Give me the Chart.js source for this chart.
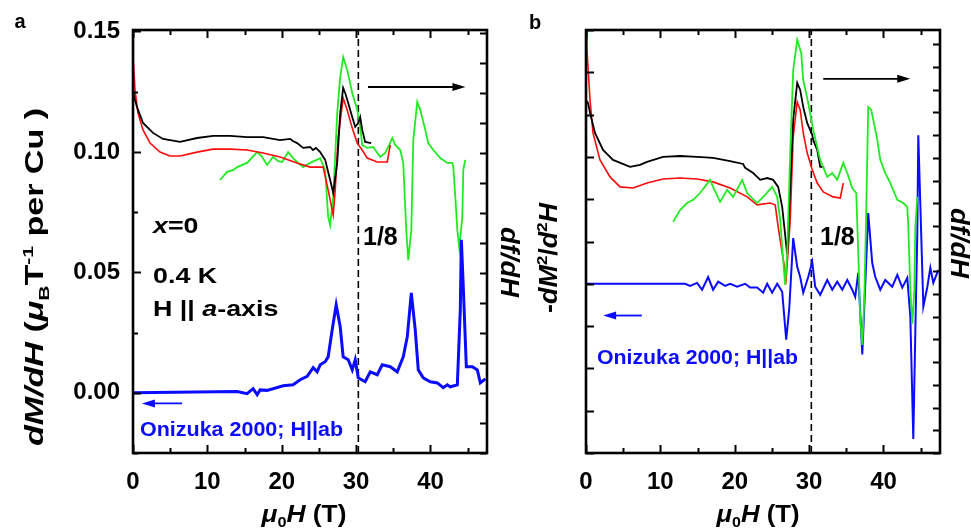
<!DOCTYPE html>
<html>
<head>
<meta charset="utf-8">
<script src="https://cdn.jsdelivr.net/npm/chart.js@4.4.0/dist/chart.umd.min.js"></script>
<style>
  body { margin: 0; background: #fff; }
  #wrap { position: relative; width: 971px; height: 532px; }
  canvas { position: absolute; top: 0; }
  #cA { left: 0; }
  #cB { left: 530px; }
</style>
</head>
<body>
<div id="wrap">
  <canvas id="cA" width="530" height="532"></canvas>
  <canvas id="cB" width="441" height="532"></canvas>
</div>
<script>
// ---- panel a : dM/dH (left) and df/dH (right, arb. units) ----
const aBlackH = [0,0.27,0.54,1.35,2.69,4.04,6.33,8.61,10.77,13.06,15.34,17.5,19.78,21.13,21.5,22.07,22.88,23.82,24.2,24.6,25.17,25.84,26.51,26.92,27.46,27.86,28.26,28.53,28.94,29.48,29.88,30.28,30.55,30.82,31.22,32.03];
const aBlackF = [12.1,11.77,11.53,11.0,10.67,10.47,10.37,10.5,10.57,10.57,10.53,10.53,10.43,10.47,10.4,10.33,10.17,10.2,10.1,10.17,10.03,9.77,9.1,8.67,9.67,11.33,12.17,12.0,11.67,11.2,10.87,11.0,11.2,10.77,10.37,10.33];

const aRedH = [0,0.04,0.27,0.67,1.35,2.29,3.63,4.98,6.33,8.61,10.77,13.06,15.34,17.5,19.78,22.07,23.82,25.57,26.24,26.92,27.19,27.59,28.26,28.8,29.48,30.15,30.82,31.49,32.84,34.19,34.59];
const aRedF = [14.6,13.1,12.1,11.33,10.77,10.33,10.03,9.9,9.9,10.03,10.13,10.13,10.1,10.0,9.87,9.67,9.53,9.53,8.77,7.93,8.77,10.53,11.83,11.43,10.83,10.33,10.1,9.83,9.7,9.7,10.27];

const aGreenH = [11.71,12.65,13.46,14.0,15.34,16.69,17.36,18.03,18.84,19.5,20.05,20.86,21.53,22.07,22.88,23.82,25.17,25.84,26.24,26.51,26.92,27.46,27.86,28.26,28.8,29.48,30.15,30.55,30.82,31.49,32.3,33.24,33.92,34.45,34.86,35.26,35.94,36.34,36.74,37.01,37.42,37.69,38.22,38.63,39.3,39.7,40.38,41.32,42.26,42.93,43.07,43.34,43.61,43.88,44.28,44.41,44.68];
const aGreenF = [9.1,9.37,9.43,9.53,9.67,10.03,9.87,9.6,9.87,9.73,9.7,10.03,9.83,9.7,9.53,9.67,9.83,9.43,7.87,7.6,8.53,11.33,12.53,13.2,12.77,12.0,11.43,10.87,10.27,10.17,10.2,9.87,10.0,10.27,10.5,10.27,10.1,9.67,7.43,6.43,7.43,10.43,11.7,11.43,10.77,10.33,10.1,9.83,9.67,9.67,9.53,8.53,7.43,6.83,7.87,9.43,9.77];

// Onizuka 2000, H||ab
const aBlueH = [0,14.0,15.34,16.15,16.69,17.09,18.03,20.19,21.53,22.48,23.42,24.23,24.76,25.17,25.84,26.24,26.78,27.32,27.86,28.26,28.94,29.48,29.88,30.28,31.22,31.9,32.84,33.51,34.59,35.53,36.34,36.88,37.42,37.95,38.36,39.03,39.97,40.92,41.72,42.26,42.66,43.61,44.01,44.15,44.41,44.82,45.63,46.3,46.7,47.38];
const aBlueV = [0,0.0005,-0.0004,0.0017,-0.0008,0.0012,0.001,0.0029,0.0033,0.0054,0.0068,0.0104,0.0087,0.0116,0.0129,0.0149,0.0261,0.0365,0.0274,0.0149,0.0137,0.0095,0.0137,0.0062,0.0046,0.0087,0.0075,0.0116,0.0108,0.0087,0.0149,0.0232,0.0415,0.0261,0.0095,0.0062,0.0046,0.0041,0.0021,0.0033,0.0025,0.0033,0.0344,0.0635,0.044,0.0108,0.0108,0.0095,0.0041,0.0058];

// ---- panel b : -d2M/dH2 (left) and df/dH (right, arb. units) ----
const bBlackH = [0,0.27,0.54,1.21,2.29,3.63,5.92,7.27,8.21,10.36,12.65,14.94,17.09,19.38,21.13,21.4,22.48,23.42,24.36,25.17,25.84,26.38,26.78,27.05,27.46,27.86,28.4,28.8,29.21,29.74,30.42,30.55,31.09,31.49,32.03];
const bBlackF = [15.55,15.42,14.98,14.1,13.35,12.91,12.6,12.69,12.82,13.04,13.08,13.04,13.0,12.86,12.73,12.56,12.33,12.03,12.11,12.03,11.72,10.84,9.6,8.72,11.72,14.67,16.3,15.99,15.24,14.54,14.01,13.79,13.35,12.6,12.6];

const bRedH = [0,0.13,0.27,0.54,0.94,1.88,3.23,4.58,6.33,8.21,10.36,12.65,14.94,17.09,19.38,21.67,23.01,24.76,25.44,25.84,26.38,26.92,27.46,27.86,28.4,28.8,29.21,29.74,30.42,31.09,31.9,33.24,34.19,34.59];
const bRedF = [19.0,17.75,17.0,15.55,14.1,12.91,12.16,11.72,11.67,11.89,12.07,12.11,12.07,11.94,11.67,11.28,10.93,11.01,10.93,9.96,8.81,7.71,10.26,13.92,15.46,15.11,14.1,13.22,12.47,11.89,11.5,11.28,11.23,11.89];

const bGreenH = [11.71,12.65,13.59,14.4,15.34,16.69,17.09,18.03,18.98,19.78,21.0,21.67,23.01,24.09,25.03,25.71,26.11,26.51,26.78,27.05,27.46,27.86,28.4,28.94,29.21,29.88,30.55,31.49,32.44,33.11,33.78,34.59,35.13,35.8,36.34,36.61,36.88,37.15,37.42,37.69,37.95,38.36,38.63,39.17,39.57,40.24,40.92,41.86,42.66,43.2,43.34,43.61,43.88,44.15,44.28,44.55];
const bGreenF = [10.18,10.7,11.01,11.15,11.45,12.03,11.72,11.06,11.59,11.28,12.03,11.45,11.01,11.37,11.72,11.28,10.26,8.5,7.4,8.81,13.22,16.87,18.19,17.62,16.43,15.42,14.23,12.91,12.16,12.33,12.03,12.78,12.33,11.67,11.45,8.81,5.86,4.76,6.74,10.84,15.24,15.11,14.67,13.79,12.91,12.33,11.89,11.15,11.01,10.84,9.96,7.18,5.7,7.18,9.96,11.28];

const bBlueH = [0,13.32,14.0,14.94,15.61,16.42,17.09,17.77,18.71,19.38,20.32,21.4,22.07,23.01,23.82,24.36,25.03,25.71,26.38,26.92,27.32,27.86,28.4,28.8,29.21,29.88,30.42,30.82,31.49,32.44,33.11,33.78,34.46,35.13,35.8,36.2,36.61,37.15,37.95,38.49,38.9,39.57,40.24,41.18,41.86,42.53,43.2,43.61,44.01,44.28,44.55,44.68,45.36,45.9,46.3,46.7,47.38];
const bBlueV = [0,0,-0.05,0.02,-0.14,0.16,-0.14,0.05,-0.05,0,-0.07,0,-0.09,-0.09,-0.21,0,-0.21,0,-0.19,-1.32,-0.61,1.08,0.4,0.16,-0.21,0.16,0.52,-0.07,-0.26,0.09,-0.14,0.05,-0.14,0.09,-0.14,-0.31,0.26,-1.67,1.67,0.49,0.16,-0.14,0.09,-0.07,0.21,-0.09,0.14,-0.78,-3.67,-1.15,1.2,3.51,-0.54,-0.07,0.38,0.02,0.33];

// 1/8 plateau field and axis tick labels
const eighthH = 30.3;
const xTickLabels = [0, 10, 20, 30, 40];
const aYTickLabels = ['0.00', '0.05', '0.10', '0.15'];

const FONT = '"Liberation Sans", Arial, Helvetica, sans-serif';
const BLACK = '#000000', RED = '#ff0a0a', GREEN = '#22ea22', BLUE = '#0b0bff';

function pts(xs, ys) { return xs.map((x, i) => ({ x: x, y: ys[i] })); }

function line(xs, ys, color, width, axis) {
  return { data: pts(xs, ys), borderColor: color, borderWidth: width, pointRadius: 0,
           tension: 0, fill: false, yAxisID: axis };
}

function dashed(ymin, ymax) {
  return { data: [{ x: eighthH, y: ymin }, { x: eighthH, y: ymax }], borderColor: BLACK,
           borderWidth: 1.6, borderDash: [7, 4], pointRadius: 0, yAxisID: 'y' };
}

// text with italic / sub / superscript pieces
function drawRich(ctx, parts, x, y, o) {
  const size = o.size;
  const fontOf = p => (p.i ? 'italic ' : '') + 'bold ' + ((p.sub || p.sup) ? size * 0.62 : size) + 'px ' + FONT;
  let w = 0;
  for (const p of parts) { ctx.font = fontOf(p); w += ctx.measureText(p.t).width; }
  ctx.save();
  ctx.translate(x, y);
  if (o.rot) ctx.rotate(o.rot);
  const sx = o.len ? o.len / w : (o.sx || 1);
  ctx.scale(sx, 1);
  ctx.fillStyle = o.color || BLACK;
  ctx.textBaseline = 'alphabetic';
  ctx.textAlign = 'left';
  let cx = o.align === 'center' ? -w / 2 : 0;
  for (const p of parts) {
    ctx.font = fontOf(p);
    const dy = p.sub ? size * 0.22 : p.sup ? -size * 0.4 : 0;
    ctx.fillText(p.t, cx, dy);
    cx += ctx.measureText(p.t).width;
  }
  ctx.restore();
}

// frame, inward ticks, arrows and annotations
function decor(id, tickSpec, arrows, texts) {
  return {
    id: id,
    afterDraw(chart) {
      const ctx = chart.ctx, a = chart.chartArea;
      ctx.save();
      ctx.strokeStyle = BLACK;
      ctx.lineWidth = 2;
      for (const s of Object.values(chart.scales)) {
        const t = tickSpec[s.id];
        if (!t) continue;
        for (const tk of s.ticks) {
          const v = tk.value, n = v / t.step;
          if (Math.abs(n - Math.round(n)) > 1e-6) continue;
          const m = t.major ? v / t.major : 0;
          const len = (t.major && Math.abs(m - Math.round(m)) < 1e-6) ? t.long : t.short;
          const p = Math.round(s.getPixelForValue(v)) + 0.5;
          ctx.beginPath();
          if (s.isHorizontal()) {
            ctx.moveTo(p, a.bottom); ctx.lineTo(p, a.bottom - len);
            ctx.moveTo(p, a.top); ctx.lineTo(p, a.top + len);
          } else if (s.position === 'left') {
            ctx.moveTo(a.left, p); ctx.lineTo(a.left + len, p);
          } else {
            ctx.moveTo(a.right, p); ctx.lineTo(a.right - len, p);
          }
          ctx.stroke();
        }
      }
      ctx.lineWidth = 2.6;
      ctx.strokeRect(a.left, a.top, a.width, a.height);

      for (const ar of arrows) {
        const xs = chart.scales.x, ys = chart.scales[ar.axis];
        const x1 = xs.getPixelForValue(ar.from), x2 = xs.getPixelForValue(ar.to);
        const yy = ys.getPixelForValue(ar.y);
        const dir = Math.sign(x2 - x1);
        ctx.strokeStyle = ar.color; ctx.fillStyle = ar.color; ctx.lineWidth = 1.8;
        ctx.beginPath(); ctx.moveTo(x1, yy); ctx.lineTo(x2 - dir * 8, yy); ctx.stroke();
        ctx.beginPath(); ctx.moveTo(x2, yy); ctx.lineTo(x2 - dir * 13, yy - 4);
        ctx.lineTo(x2 - dir * 13, yy + 4); ctx.closePath(); ctx.fill();
      }
      ctx.restore();
      for (const t of texts) drawRich(ctx, t.parts, t.x, t.y, t);
    }
  };
}

const tickFont = { family: FONT, size: 24, weight: 'bold' };

function xScale() {
  return {
    type: 'linear', position: 'bottom', min: 0, max: 47.6,
    grid: { display: false }, border: { display: false },
    ticks: { stepSize: 5, includeBounds: false, autoSkip: false, maxRotation: 0, color: BLACK,
             font: tickFont, padding: 7,
             callback: v => xTickLabels.includes(v) ? String(v) : '' },
    afterFit: s => { s.height = 79; }
  };
}

function hiddenY(pos, min, max, width) {
  return {
    type: 'linear', position: pos, min: min, max: max,
    grid: { display: false }, border: { display: false },
    ticks: { stepSize: 1, includeBounds: false, display: false },
    afterFit: s => { s.width = width; }
  };
}

const baseOpts = {
  responsive: false, animation: false, devicePixelRatio: 1,
  layout: { padding: { top: 30, left: 0, right: 0, bottom: 0 } },
  plugins: { legend: { display: false }, tooltip: { enabled: false } }
};

// ---------- panel a ----------
new Chart(document.getElementById('cA'), {
  type: 'line',
  data: {
    datasets: [
      line(aBlueH, aBlueV, BLUE, 3, 'y'),
      line(aBlackH, aBlackF, BLACK, 1.8, 'y2'),
      line(aRedH, aRedF, RED, 1.6, 'y2'),
      line(aGreenH, aGreenF, GREEN, 1.8, 'y2'),
      dashed(-0.025, 0.1506)
    ]
  },
  options: Object.assign({}, baseOpts, {
    scales: {
      x: xScale(),
      y: {
        type: 'linear', position: 'left', min: -0.025, max: 0.1506,
        grid: { display: false }, border: { display: false },
        ticks: { stepSize: 0.025, includeBounds: false, color: BLACK, font: tickFont, padding: 5,
                 callback: v => { const l = v.toFixed(2); return aYTickLabels.includes(l) && Math.abs(v * 20 - Math.round(v * 20)) < 1e-6 ? l : ''; } },
        afterFit: s => { s.width = 133; }
      },
      y2: hiddenY('right', 0, 14.1, 43)
    }
  }),
  plugins: [decor('decorA',
    { x: { step: 5, major: 10, long: 8, short: 5 },
      y: { step: 0.025, major: 0.05, long: 8, short: 5 },
      y2: { step: 1, long: 7, short: 7 } },
    [ { from: 31.6, to: 44.7, y: 12.2, axis: 'y2', color: BLACK },
      { from: 6.6, to: 1.2, y: -0.0044, axis: 'y', color: BLUE } ],
    [ { parts: [{ t: 'a' }], x: 20, y: 28, size: 20, align: 'center' },
      { parts: [{ t: 'x', i: 1 }, { t: '=0' }], x: 153, y: 233, size: 22, sx: 1.22 },
      { parts: [{ t: '0.4 K' }], x: 153, y: 283, size: 22, sx: 1.22 },
      { parts: [{ t: 'H || ' }, { t: 'a', i: 1 }, { t: '-axis' }], x: 153, y: 316, size: 22, sx: 1.22 },
      { parts: [{ t: '1/8' }], x: 363, y: 245, size: 25 },
      { parts: [{ t: 'Onizuka 2000; H||ab' }], x: 140, y: 436, size: 20, len: 203, color: BLUE },
      { parts: [{ t: 'μ', i: 1 }, { t: '0', sub: 1 }, { t: 'H', i: 1 }, { t: ' (T)' }], x: 304, y: 522, size: 24, len: 85, align: 'center' },
      { parts: [{ t: 'dM/dH', i: 1 }, { t: ' (' }, { t: 'μ', i: 1 }, { t: 'B', sub: 1 }, { t: 'T' }, { t: '-1', sup: 1 }, { t: ' per Cu )' }],
        x: 43, y: 277, size: 25, len: 338, align: 'center', rot: -Math.PI / 2 },
      { parts: [{ t: 'df/dH', i: 1 }], x: 501, y: 262, size: 25, len: 70, align: 'center', rot: Math.PI / 2 } ]
  )]
});

// ---------- panel b ----------
new Chart(document.getElementById('cB'), {
  type: 'line',
  data: {
    datasets: [
      line(bGreenH, bGreenF, GREEN, 1.8, 'y2'),
      line(bBlackH, bBlackF, BLACK, 1.8, 'y2'),
      line(bRedH, bRedF, RED, 1.6, 'y2'),
      line(bBlueH, bBlueV, BLUE, 2, 'y'),
      dashed(-4, 6)
    ]
  },
  options: Object.assign({}, baseOpts, {
    scales: {
      x: xScale(),
      y: hiddenY('left', -4, 6, 56),
      y2: hiddenY('right', 0, 18.63, 31)
    }
  }),
  plugins: [decor('decorB',
    { x: { step: 5, major: 10, long: 8, short: 5 },
      y: { step: 1, long: 8, short: 8 },
      y2: { step: 1, long: 7, short: 7 } },
    [ { from: 31.9, to: 43.6, y: 16.48, axis: 'y2', color: BLACK },
      { from: 7.5, to: 2.3, y: -0.75, axis: 'y', color: BLUE } ],
    [ { parts: [{ t: 'b' }], x: 5, y: 29, size: 20, align: 'center' },
      { parts: [{ t: '1/8' }], x: 290, y: 245, size: 25 },
      { parts: [{ t: 'Onizuka 2000; H||ab' }], x: 67, y: 364, size: 20, len: 201, color: BLUE },
      { parts: [{ t: 'μ', i: 1 }, { t: '0', sub: 1 }, { t: 'H', i: 1 }, { t: ' (T)' }], x: 228, y: 522, size: 24, len: 83, align: 'center' },
      { parts: [{ t: '-' }, { t: 'dM', i: 1 }, { t: '2', sup: 1 }, { t: '/' }, { t: 'd', i: 1 }, { t: '2', sup: 1 }, { t: 'H', i: 1 }],
        x: 27, y: 258, size: 25, len: 110, align: 'center', rot: -Math.PI / 2 },
      { parts: [{ t: 'df/dH', i: 1 }], x: 421, y: 243, size: 25, len: 70, align: 'center', rot: Math.PI / 2 } ]
  )]
});
</script>
</body>
</html>
